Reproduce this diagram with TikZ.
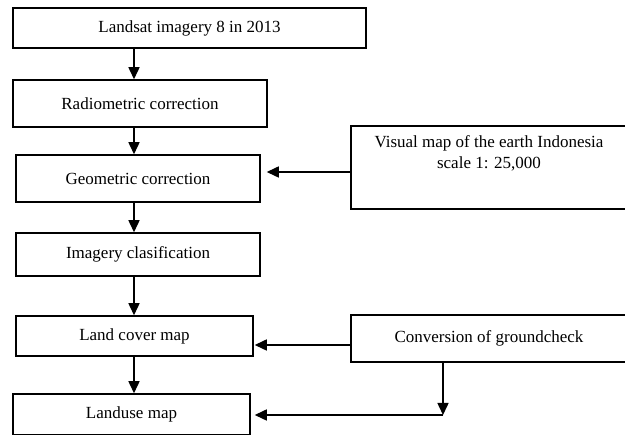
\documentclass[tikz,border=0pt]{standalone}
\usepackage{fontspec}
\setmainfont{Liberation Serif}
\usetikzlibrary{arrows.meta}
\begin{document}
\begin{tikzpicture}[x=1pt,y=-1pt,
  box/.style={draw,line width=1.5pt,rectangle,inner sep=0pt,align=center,
    font=\fontsize{17}{21.5}\selectfont},
  arr/.style={line width=1.5pt,-{Triangle[width=11pt,length=12pt]}},
  ln/.style={line width=1.5pt}]
\useasboundingbox (0,0) rectangle (625,435);
\node[box,minimum width=353pt,minimum height=40pt] (b1) at (189.5,28) {Landsat imagery 8 in 2013};
\node[box,minimum width=254pt,minimum height=47pt] (b2) at (140,103.5) {Radiometric correction};
\node[box,minimum width=244pt,minimum height=47pt] (b3) at (138,178.5) {Geometric correction};
\node[box,minimum width=244pt,minimum height=43pt] (b4) at (138,254.5) {Imagery clasification};
\node[box,minimum width=237pt,minimum height=40pt] (b5) at (134.5,336) {Land cover map};
\node[box,minimum width=237pt,minimum height=41pt] (b6) at (131.5,414.5) {Landuse map};
\node[box,minimum width=276pt,minimum height=83pt] (vm) at (489,167.5) {};
\node[font=\fontsize{17}{21.5}\selectfont,align=center,anchor=north] (vmt) at (489,132) {Visual map of the earth Indonesia\\scale 1: 25,000};
\node[box,minimum width=276pt,minimum height=47pt] (cg) at (489,338.5) {Conversion of groundcheck};
\coordinate (col) at (134,0);
\draw[arr] (b1.south -| col) -- (b2.north -| col);
\draw[arr] (b2.south -| col) -- (b3.north -| col);
\draw[arr] (b3.south -| col) -- (b4.north -| col);
\draw[arr] (b4.south -| col) -- (b5.north -| col);
\draw[arr] (b5.south -| col) -- (b6.north -| col);
\coordinate (vy) at (0,172);
\draw[arr,shorten >=6pt] (vm.west |- vy) -- (b3.east |- vy);
\coordinate (cy) at (0,345);
\draw[arr,shorten >=1pt] (cg.west |- cy) -- (b5.east |- cy);
\coordinate (k) at (443,415);
\draw[arr] (cg.south -| k) -- (k);
\draw[arr,shorten >=4pt] (k) -- (b6.east |- k);
\end{tikzpicture}
\end{document}
